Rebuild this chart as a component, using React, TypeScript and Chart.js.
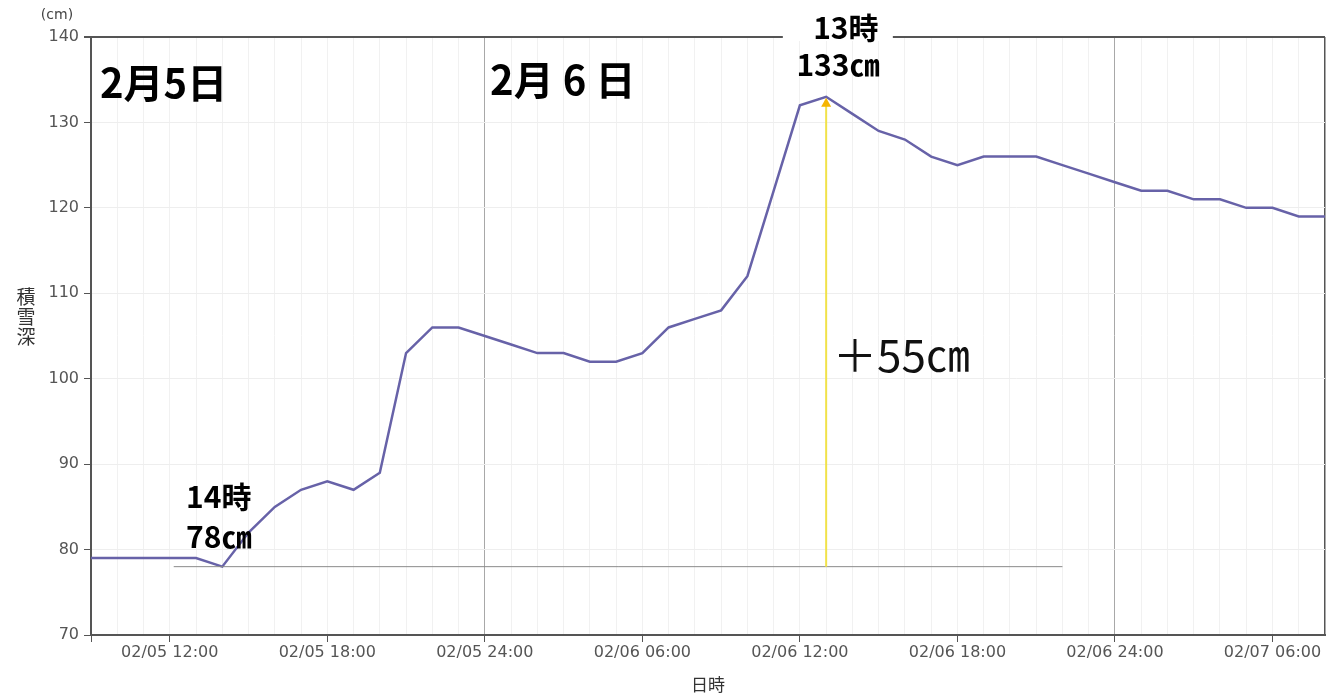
import React, { useEffect, useRef } from "react";
import { Chart, registerables } from "chart.js";

Chart.register(...registerables);

// hours counted from 02/05 00:00
const hours = [
  9, 10, 11, 12, 13, 14, 15, 16, 17, 18, 19, 20, 21, 22, 23, 24,
  25, 26, 27, 28, 29, 30, 31, 32, 33, 34, 35, 36, 37, 38, 39, 40,
  41, 42, 43, 44, 45, 46, 47, 48, 49, 50, 51, 52, 53, 54, 55, 56,
];
const snowDepth = [
  79, 79, 79, 79, 79, 78, 82, 85, 87, 88, 87, 89, 103, 106, 106, 105,
  104, 103, 103, 102, 102, 103, 106, 107, 108, 112, 122, 132, 133, 131, 129, 128,
  126, 125, 126, 126, 126, 125, 124, 123, 122, 122, 121, 121, 120, 120, 119, 119,
];
const tickHours = [12, 18, 24, 30, 36, 42, 48, 54];
const tickLabels = [
  "02/05 12:00", "02/05 18:00", "02/05 24:00", "02/06 06:00",
  "02/06 12:00", "02/06 18:00", "02/06 24:00", "02/07 06:00",
];
const dayLines = [24, 48];
const xMin = 9;
const xMax = 56;
const yMin = 70;
const yMax = 140;

// annotation values
const lowHour = 14;
const lowValue = 78;
const peakHour = 37;
const peakValue = 133;
const baseLineFrom = 12.15;
const baseLineTo = 46;
const increaseText = "＋55㎝";
const day1Text = "2月5日";
const day2Text = "2月 6 日";

const annotationPlugin = {
  id: "annotations",
  afterDraw(chart: any) {
    const { ctx, scales, chartArea } = chart;
    const x = scales.x;
    const y = scales.y;
    const px = (h: number) => x.getPixelForValue(h);
    const py = (v: number) => y.getPixelForValue(v);
    ctx.save();

    // baseline at 78
    ctx.strokeStyle = "#8a8a8a";
    ctx.lineWidth = 1;
    ctx.beginPath();
    ctx.moveTo(px(baseLineFrom), py(lowValue));
    ctx.lineTo(px(baseLineTo), py(lowValue));
    ctx.stroke();

    // yellow arrow
    const ax = px(peakHour);
    const ay0 = py(lowValue);
    const ay1 = py(peakValue);
    ctx.strokeStyle = "#f1e24a";
    ctx.lineWidth = 2;
    ctx.beginPath();
    ctx.moveTo(ax, ay0);
    ctx.lineTo(ax, ay1 + 8);
    ctx.stroke();
    ctx.fillStyle = "#f5b400";
    ctx.beginPath();
    ctx.moveTo(ax, ay1 + 1);
    ctx.lineTo(ax - 5, ay1 + 10);
    ctx.lineTo(ax + 5, ay1 + 10);
    ctx.closePath();
    ctx.fill();

    // day labels
    ctx.fillStyle = "#000";
    ctx.textBaseline = "middle";
    ctx.textAlign = "left";
    ctx.font = "bold 40px 'Noto Sans CJK JP'";
    ctx.fillText(day1Text, px(9.34), py(134.6));
    ctx.fillText(day2Text, px(24.2), py(135));

    // +55cm
    ctx.font = "normal 44px 'Noto Sans CJK JP'";
    ctx.fillStyle = "#111";
    ctx.fillText(increaseText, px(37.26), py(102.8));

    // low label
    ctx.font = "bold 30px 'Noto Sans CJK JP'";
    ctx.fillStyle = "#000";
    ctx.fillText(`${lowHour}時`, px(12.62), py(86.2));
    ctx.fillText(`${lowValue}㎝`, px(12.62), py(81.5));

    // peak label with white background
    ctx.textAlign = "center";
    const topLabel = `${peakHour - 24}時`;
    const cx = px(37.75);
    const cy = py(141.05);
    ctx.fillStyle = "#fff";
    ctx.fillRect(cx - 63, chartArea.top - 4, 110, 8);
    ctx.fillStyle = "#000";
    ctx.fillText(topLabel, cx, cy);
    ctx.fillText(`${peakValue}㎝`, px(37.45), py(136.8));

    // y title stacked
    ctx.font = "19px 'Noto Sans CJK JP'";
    ctx.fillStyle = "#333";
    const yt = "積雪深";
    for (let i = 0; i < yt.length; i++) {
      ctx.fillText(yt[i], 26, 297 + i * 20);
    }
    ctx.font = "14px 'DejaVu Sans'";
    ctx.fillStyle = "#444";
    ctx.fillText("(cm)", 57, 15);

    ctx.restore();
  },
};

export default function App() {
  const ref = useRef<HTMLCanvasElement>(null);
  useEffect(() => {
    if (!ref.current) return;
    const chart = new Chart(ref.current, {
      type: "line",
      data: {
        datasets: [
          {
            data: hours.map((h, i) => ({ x: h, y: snowDepth[i] })),
            borderColor: "#6762a8",
            borderWidth: 2.5,
            pointRadius: 0,
            tension: 0,
            fill: false,
          },
        ],
      },
      options: {
        animation: false,
        responsive: false,
        layout: { padding: { top: 37, left: 0, right: 1, bottom: 0 } },
        plugins: {
          legend: { display: false },
          tooltip: { enabled: false },
        },
        scales: {
          x: {
            type: "linear",
            min: xMin,
            max: xMax,
            afterFit: (s: any) => {
              s.height = 60;
            },
            afterBuildTicks: (s: any) => {
              const t: any[] = [];
              for (let h = xMin; h <= xMax; h++) t.push({ value: h });
              s.ticks = t;
            },
            ticks: {
              autoSkip: false,
              maxRotation: 0,
              padding: 1,
              color: "#555",
              font: { family: "'DejaVu Sans'", size: 16 },
              callback: (v: any) => {
                const i = tickHours.indexOf(Number(v));
                return i >= 0 ? tickLabels[i] : "";
              },
            },
            grid: {
              color: (c: any) => {
                const v = c.tick?.value;
                if (v === xMax) return "#555";
                if (dayLines.includes(v)) return "#a8a8a8";
                return "#f1f1f1";
              },
              lineWidth: (c: any) => (c.tick?.value === xMax ? 1.5 : 1),
              tickColor: (c: any) =>
                tickHours.includes(c.tick?.value) || c.tick?.value === xMin ? "#555" : "rgba(0,0,0,0)",
              tickLength: 7,
            },
            border: { color: "#555", width: 2 },
            title: {
              display: true,
              text: "日時",
              color: "#333",
              font: { family: "'Noto Sans CJK JP'", size: 17 },
              padding: { top: 0, bottom: 0 },
            },
          },
          y: {
            min: yMin,
            max: yMax,
            afterFit: (s: any) => {
              s.width = 91;
            },
            ticks: {
              stepSize: 10,
              color: "#555",
              padding: 5,
              font: { family: "'DejaVu Sans'", size: 16 },
            },
            grid: {
              color: (c: any) => (c.tick?.value === yMax ? "#555" : "#eeeeee"),
              lineWidth: (c: any) => (c.tick?.value === yMax ? 2 : 1),
              tickColor: "#555",
              tickLength: 7,
            },
            border: { color: "#555", width: 2 },
          },
        },
      },
      plugins: [annotationPlugin],
    });
    return () => chart.destroy();
  }, []);
  return (
    <div style={{ position: "absolute", left: 0, top: 0, width: 1326, height: 695, background: "#fff" }}>
      <canvas ref={ref} width={1326} height={695} style={{ width: 1326, height: 695 }} />
    </div>
  );
}
